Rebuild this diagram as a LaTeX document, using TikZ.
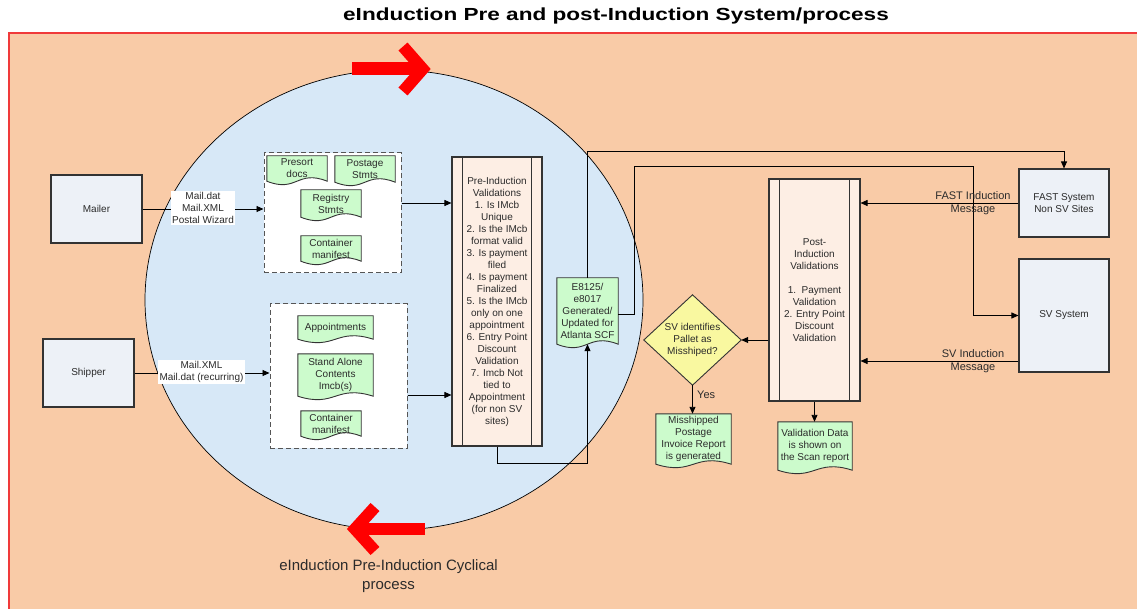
\documentclass[tikz,border=0pt]{standalone}
\usepackage{fontspec}
\setmainfont{Liberation Sans}
\usetikzlibrary{arrows.meta,calc}
\definecolor{bgorange}{HTML}{F9CBA7}
\definecolor{framered}{HTML}{F03A3A}
\definecolor{circblue}{HTML}{D7E8F7}
\definecolor{docgreen}{HTML}{CCFBCC}
\definecolor{sysfill}{HTML}{EDF1F7}
\definecolor{procfill}{HTML}{FDEEE4}
\definecolor{diafill}{HTML}{F9F8A0}
\definecolor{txt}{HTML}{2B2B2B}
\definecolor{edge}{HTML}{333333}
\definecolor{dashgray}{HTML}{555555}
\definecolor{arrowred}{HTML}{FF0000}
\pgfdeclarelayer{back}
\pgfdeclarelayer{docs}
\pgfsetlayers{back,docs,main}
\newcommand\docwave[1]{%
  \filldraw[docshape] (#1.north west) -- (#1.north east) -- (#1.south east)
    .. controls ($(#1.south)+(0,12pt)$) and ($(#1.south)+(0,-12pt)$) .. (#1.south west) -- cycle;}
\tikzset{
  sysbox/.style={draw=edge, fill=sysfill, line width=1.1pt, inner sep=0pt, align=center},
  dashbox/.style={draw=dashgray, fill=white, line width=1pt, dash pattern=on 5pt off 3pt, inner sep=0pt},
  procbox/.style={draw=edge, fill=procfill, line width=1.1pt, inner sep=0pt, align=center},
  docnode/.style={inner sep=0pt, align=center},
  docshape/.style={draw=edge, fill=docgreen, line width=0.9pt},
  conn/.style={draw=black, line width=0.9pt},
  arr/.style={conn, -{Triangle[length=7pt,width=6pt]}},
  whitelabel/.style={fill=white, inner sep=1.5pt, align=center},
  msglabel/.style={align=center, inner sep=0pt, font=\fontsize{11}{13}\selectfont},
  redarrow/.style={draw=arrowred, line join=miter, miter limit=10},
}
\begin{document}
\begin{tikzpicture}[x=1pt, y=-1pt, text=txt, font=\fontsize{10}{12}\selectfont]
\useasboundingbox (0,0) rectangle (1137,609);
\clip (0,0) rectangle (1137,609);

\begin{pgfonlayer}{back}
  \filldraw[fill=bgorange, draw=framered, line width=1.7pt] (9,33) rectangle (1150,620);
  \filldraw[fill=circblue, draw=black, line width=0.7pt] (394,300) ellipse (249pt and 230pt);
  % red cycle arrows
  \draw[redarrow, line width=13pt] (352,69) -- (424,69);
  \draw[redarrow, line width=12pt] (403,46.5) -- (422.7,69) -- (403,91.5);
  \draw[redarrow, line width=12pt] (425,529) -- (354,529);
  \draw[redarrow, line width=12pt] (375,507) -- (355,529) -- (375,551);
  % dashed groups
  \node[dashbox, minimum width=137pt, minimum height=120pt] (dash1) at (332.5,213) {};
  \node[dashbox, minimum width=137pt, minimum height=144pt] (dash2) at (338.5,376) {};
\end{pgfonlayer}

% title and caption
\node[text=black] (title) at (616,16) {\scalebox{1.29}[1]{\bfseries\fontsize{17.5}{20}\selectfont eInduction Pre and post-Induction System/process}};
\node[align=center, font=\fontsize{15}{19}\selectfont] (caption) at (388.5,576.5) {eInduction Pre-Induction Cyclical\\process};

% system boxes
\node[sysbox, minimum width=91pt, minimum height=68pt] (mailer) at (96.5,209) {Mailer};
\node[sysbox, minimum width=91pt, minimum height=68pt] (shipper) at (88.5,373) {Shipper};
\node[sysbox, minimum width=90pt, minimum height=68pt] (fast) at (1064,203) {FAST System\\Non SV Sites};
\node[sysbox, minimum width=90pt, minimum height=113pt] (sv) at (1064,315.5) {SV System};

% documents
\node[docnode, minimum width=60pt, minimum height=25pt] (presort) at (297,168.5) {Presort\\docs};
\node[docnode, minimum width=60pt, minimum height=26pt] (postage) at (365,169) {Postage\\Stmts};
\node[docnode, minimum width=60pt, minimum height=27pt] (registry) at (331,203.5) {Registry\\Stmts};
\node[docnode, minimum width=60pt, minimum height=25pt] (contA) at (331,248.5) {Container\\manifest};
\node[docnode, minimum width=75pt, minimum height=23pt] (appoint) at (335.5,327.5) {Appointments};
\node[docnode, minimum width=75pt, minimum height=42pt] (standalone) at (335.5,375) {Stand Alone\\Contents\\Imcb(s)};
\node[docnode, minimum width=60pt, minimum height=25pt] (contB) at (331,423.5) {Container\\manifest};
\node[docnode, minimum width=61pt, minimum height=66pt] (eform) at (587.5,311) {E8125/\\e8017\\Generated/\\Updated for\\Atlanta SCF};
\node[docnode, minimum width=75pt, minimum height=50pt] (missh) at (693.5,439) {Misshipped\\Postage\\Invoice Report\\is generated};
\node[docnode, minimum width=74pt, minimum height=48pt] (valid) at (815,446) {Validation Data\\is shown on\\the Scan report};

% process boxes
\node[procbox, minimum width=90pt, minimum height=289pt] (pre) at (497,301.5) {Pre-Induction\\Validations\\1. Is IMcb\\Unique\\2. Is the IMcb\\format valid\\3. Is payment\\filed\\4. Is payment\\Finalized\\5. Is the IMcb\\only on one\\appointment\\6. Entry Point\\Discount\\Validation\\7. Imcb Not\\tied to\\Appointment\\(for non SV\\sites)};
\node[procbox, minimum width=91pt, minimum height=222pt] (post) at (814.5,290) {Post-\\Induction\\Validations\\[12pt]1.\ \ Payment\\Validation\\2. Entry Point\\Discount\\Validation};
\foreach \p in {pre,post}{
  \draw[edge, line width=1.1pt] ([xshift=11pt]\p.north west) -- ([xshift=11pt]\p.south west);
  \draw[edge, line width=1.1pt] ([xshift=-11pt]\p.north east) -- ([xshift=-11pt]\p.south east);
}

% decision
\node[inner sep=0pt, minimum width=97pt, minimum height=90pt, align=center] (dia) at (692.5,340) {SV identifies\\Pallet as\\Misshiped?};

\begin{pgfonlayer}{docs}
  \foreach \d in {presort,postage,registry,contA,appoint,standalone,contB,eform,missh,valid}{\docwave{\d}}
  \filldraw[draw=edge, fill=diafill, line width=0.9pt] (dia.north) -- (dia.east) -- (dia.south) -- (dia.west) -- cycle;
\end{pgfonlayer}

% connectors
\coordinate (svturn) at (973,166);
\draw[arr] (mailer.east) -- (mailer.east -| dash1.west);
\node[whitelabel] (mailerlbl) at (203,208) {Mail.dat\\Mail.XML\\Postal Wizard};
\draw[arr] (shipper.east) -- (shipper.east -| dash2.west);
\node[whitelabel] (shipperlbl) at (201.5,372) {Mail.XML\\Mail.dat (recurring)};
\draw[arr] ([yshift=10pt]dash1.east) -- ([yshift=10pt]dash1.east -| pre.west);
\draw[arr] ([yshift=-19pt]dash2.east) -- ([yshift=-19pt]dash2.east -| pre.west);
\draw[arr] (pre.south) -- ++(0,17) -| (eform.south);
\draw[arr] (eform.north) |- ([yshift=17pt]fast.north) -- (fast.north);
\draw[arr] ([yshift=-3pt]eform.east) -- ++(16,0) |- (svturn) |- (sv.west);
\draw[arr] (fast.west) -- (fast.west -| post.east);
\node[msglabel] (fastmsg) at (973,203) {FAST Induction\\Message};
\draw[arr] ([yshift=-45.5pt]sv.west) -- ([yshift=-45.5pt]sv.west -| post.east);
\node[msglabel] (svmsg) at (973,361) {SV Induction\\Message};
\draw[arr] (post.west |- dia.east) -- (dia.east);
\draw[arr] (dia.south) -- (dia.south |- missh.north);
\node[anchor=west, inner sep=0pt, font=\fontsize{11}{13}\selectfont] (yes) at (697,395) {Yes};
\draw[arr] (post.south) -- (post.south |- valid.north);
\end{tikzpicture}
\end{document}
